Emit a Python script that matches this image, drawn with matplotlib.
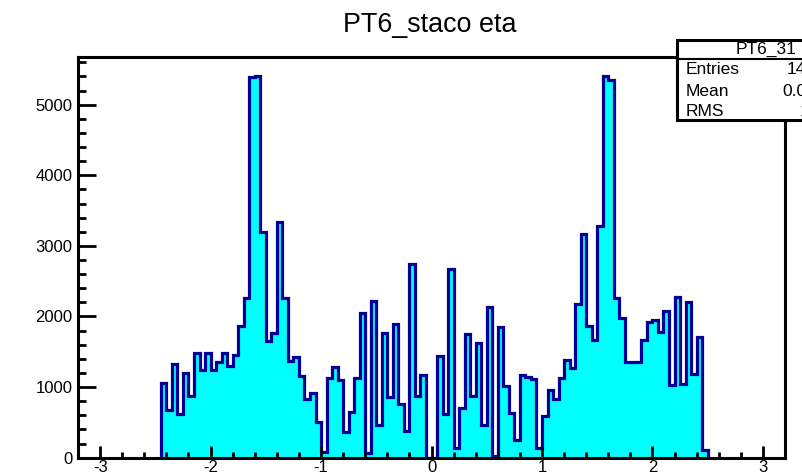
import numpy as np
import matplotlib.pyplot as plt
from matplotlib.patches import Rectangle
from matplotlib.lines import Line2D
from matplotlib.ticker import MultipleLocator

plt.rcParams['font.family'] = ['Liberation Sans', 'DejaVu Sans']
plt.rcParams['axes.unicode_minus'] = False

# histogram of eta, bins of 0.05 from -2.45 to 2.50
bin_lo = -2.45
bin_hi = 2.50
counts = [1063, 675, 1327, 619, 1195, 874, 1478, 1242, 1478, 1242,
          1359, 1478, 1298, 1454, 1869, 2257, 5386, 5405, 3200, 1652,
          1770, 3333, 2261, 1374, 1430, 1157, 826, 913, 510, 86,
          1130, 1280, 1100, 368, 651, 1124, 2053, 60, 2219, 463,
          1770, 864, 1893, 760, 382, 2743, 874, 1171, 0, 0,
          1440, 615, 2668, 133, 708, 1747, 874, 1620, 463, 2138,
          30, 1846, 1020, 629, 251, 1171, 1147, 1110, 133, 590,
          959, 830, 1135, 1390, 1265, 2172, 3163, 1865, 1667, 3285,
          5405, 5350, 2257, 1974, 1359, 1359, 1359, 1667, 1926, 1950,
          1784, 2080, 1029, 2271, 1050, 2209, 1180, 1710, 109]
edges = np.linspace(bin_lo, bin_hi, len(counts) + 1)

stat_names = ['Entries', 'Mean', 'RMS']
stat_values = ['140528', '0.01173', '1.436']

fig = plt.figure(figsize=(8.02, 4.75), dpi=100)
ax = fig.add_axes([0.0973, 0.0364, 0.8815, 0.8436])

ax.stairs(counts, edges, fill=True, color='#00ffff', baseline=0)
ax.stairs(counts, edges, color='#000099', linewidth=2.3, baseline=0)

ax.set_xlim(-3.2, 3.2)
ax.set_ylim(0, 5675)

ax.xaxis.set_major_locator(MultipleLocator(1))
ax.xaxis.set_minor_locator(MultipleLocator(0.2))
ax.yaxis.set_major_locator(MultipleLocator(1000))
ax.yaxis.set_minor_locator(MultipleLocator(200))

ax.tick_params(axis='both', which='both', direction='in', colors='black', width=2)
ax.tick_params(axis='x', which='major', length=9, pad=2, labelsize=12)
ax.tick_params(axis='x', which='minor', length=4.5)
ax.tick_params(axis='y', which='major', length=13, pad=4, labelsize=12)
ax.tick_params(axis='y', which='minor', length=6)
for s in ax.spines.values():
    s.set_linewidth(2.2)

fig.text(0.536, 1 - 25 / 475, 'PT6_staco eta', ha='center', va='center', fontsize=19.4)

# stats box (cut off at the right edge like the original)
bx0 = 677 / 802
btop = 1 - 40 / 475
bbot = 1 - 120 / 475
fig.add_artist(Rectangle((bx0, bbot), 1.2 - bx0, btop - bbot, transform=fig.transFigure,
                         facecolor='white', edgecolor='black', linewidth=2.2, zorder=5))
fig.add_artist(Line2D([bx0, 1.2], [1 - 59 / 475, 1 - 59 / 475], transform=fig.transFigure,
                      color='black', linewidth=1.5, zorder=6))
fig.text(766 / 802, 1 - 49.5 / 475, 'PT6_31', ha='center', va='center', fontsize=12.5, zorder=7)
rows_y = [70, 91, 111]
val_x = [787, 782, 800]
for name, val, yy, vx in zip(stat_names, stat_values, rows_y, val_x):
    fig.text(686 / 802, 1 - yy / 475, name, ha='left', va='center', fontsize=12.5, zorder=7)
    fig.text(vx / 802, 1 - yy / 475, val, ha='left', va='center', fontsize=12.5, zorder=7)

fig.savefig('out.png', dpi=100)
